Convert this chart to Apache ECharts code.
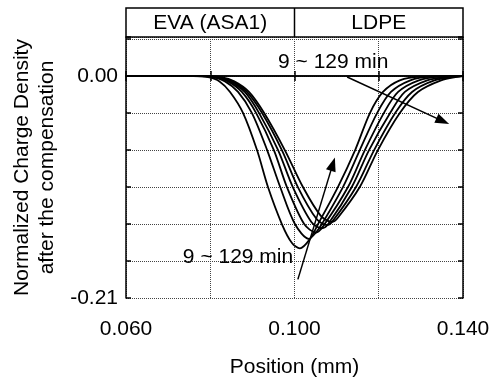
<!DOCTYPE html>
<html><head><meta charset="utf-8">
<script src="https://cdn.jsdelivr.net/npm/echarts@6/dist/echarts.min.js"></script>
<style>html,body{margin:0;padding:0;background:#fff}#c{width:494px;height:383px}</style>
</head><body><div id="c"></div>
<script>
// Curves: [position (mm), normalized charge density]
const curve9 = [[0.060,0],[0.076,0],[0.0795,-0.001],[0.0822,-0.005],[0.0847,-0.015],[0.0878,-0.035],[0.0911,-0.070],[0.0937,-0.105],[0.0970,-0.140],[0.0994,-0.158],[0.1013,-0.163],[0.1037,-0.154],[0.1056,-0.140],[0.1103,-0.105],[0.1144,-0.070],[0.1179,-0.035],[0.1210,-0.015],[0.1250,-0.004],[0.1300,-0.0005],[0.140,0]];
const curve33 = [[0.060,0],[0.077,0],[0.0804,-0.001],[0.0835,-0.005],[0.0866,-0.015],[0.0899,-0.035],[0.0935,-0.070],[0.0966,-0.105],[0.1001,-0.140],[0.1034,-0.154],[0.1051,-0.148],[0.1065,-0.140],[0.1115,-0.105],[0.1155,-0.070],[0.1196,-0.035],[0.1229,-0.015],[0.1275,-0.004],[0.1322,-0.0005],[0.140,0]];
const curve57 = [[0.060,0],[0.078,0],[0.0811,-0.001],[0.0842,-0.005],[0.0875,-0.015],[0.0909,-0.035],[0.0951,-0.070],[0.0982,-0.105],[0.1023,-0.140],[0.1051,-0.148],[0.1068,-0.142],[0.1127,-0.105],[0.1167,-0.070],[0.1212,-0.035],[0.1246,-0.015],[0.1295,-0.004],[0.1345,-0.0005],[0.140,0]];
const curve81 = [[0.060,0],[0.078,0],[0.0816,-0.001],[0.0847,-0.005],[0.0882,-0.015],[0.0916,-0.035],[0.0961,-0.070],[0.0996,-0.105],[0.1040,-0.138],[0.1065,-0.144],[0.1080,-0.140],[0.1136,-0.105],[0.1177,-0.070],[0.1227,-0.035],[0.1262,-0.015],[0.1315,-0.004],[0.1364,-0.0005],[0.140,0]];
const curve105 = [[0.060,0],[0.079,0],[0.0821,-0.001],[0.0852,-0.005],[0.0887,-0.015],[0.0923,-0.035],[0.0970,-0.070],[0.1008,-0.105],[0.1052,-0.135],[0.1077,-0.141],[0.1091,-0.137],[0.1146,-0.105],[0.1189,-0.070],[0.1239,-0.035],[0.1279,-0.015],[0.1332,-0.004],[0.1381,-0.0005],[0.140,0]];
const curve129 = [[0.060,0],[0.079,0],[0.0826,-0.001],[0.0857,-0.005],[0.0892,-0.015],[0.0928,-0.035],[0.0977,-0.070],[0.1020,-0.105],[0.1062,-0.132],[0.1089,-0.138],[0.1103,-0.134],[0.1155,-0.105],[0.1198,-0.070],[0.1250,-0.035],[0.1293,-0.015],[0.1348,-0.004],[0.1390,-0.0005],[0.140,0]];
const curves = [curve9, curve33, curve57, curve81, curve105, curve129];
const xTickLabels = ['0.060', '0.100', '0.140'];
const yTickLabels = ['0.00', '-0.21'];
const regions = ['EVA (ASA1)', 'LDPE'];
const regionBounds = [0.060, 0.100, 0.140];
const annotText = '9 ~ 129 min';
const annotTop = [0.0961, 0.013];
const annotBottom = [0.0735, -0.171];
const arrowTop = [[0.1125, -0.0009], [0.1352, -0.0426]];
const arrowBottom = [[0.1008, -0.1924], [0.1091, -0.0833]];

const FONT = 'Liberation Sans, Arial, sans-serif';
const chart = echarts.init(document.getElementById('c'));
const axisCommon = {
  axisLine: {show: true, lineStyle: {color: '#000', width: 1.5}},
  axisTick: {show: true, inside: true, length: 5, lineStyle: {color: '#000', width: 1.5}},
  splitLine: {show: false}
};
const series = curves.map((c, i) => ({
  type: 'line', data: c, smooth: 0.3, showSymbol: false, symbol: 'none',
  lineStyle: {color: '#000', width: 1.8}, z: 3, animation: false
}));
series.push({
  type: 'line', data: [], markLine: {
    silent: true, animation: false, symbol: ['none', 'triangle'], symbolSize: [10, 14],
    lineStyle: {color: '#000', width: 1.5, type: 'solid'}, label: {show: false},
    data: [
      [{coord: arrowTop[0]}, {coord: arrowTop[1]}],
      [{coord: arrowBottom[0]}, {coord: arrowBottom[1]}]
    ]
  }
});
chart.setOption({
  animation: false,
  grid: {left: 126, right: 31, top: 37, bottom: 79},
  xAxis: [
    Object.assign({}, axisCommon, {
      type: 'value', min: 0.06, max: 0.14, interval: 0.02, position: 'bottom',
      name: 'Position (mm)', nameLocation: 'middle', nameGap: 59,
      nameTextStyle: {fontFamily: FONT, fontSize: 21, color: '#000'},
      axisLabel: {fontFamily: FONT, fontSize: 21, color: '#000', margin: 21,
        formatter: v => { const s = v.toFixed(3); return xTickLabels.indexOf(s) >= 0 ? s : ''; }},
      splitLine: {show: true, lineStyle: {color: '#444', width: 1, type: 'dotted'}}
    }),
    Object.assign({}, axisCommon, {
      type: 'value', min: 0.06, max: 0.14, interval: 0.02, position: 'top', axisLabel: {show: false}
    })
  ],
  yAxis: [
    Object.assign({}, axisCommon, {
      type: 'value', min: -0.21, max: 0.037, interval: 0.035, position: 'left',
      name: 'Normalized Charge Density\nafter the compensation', nameLocation: 'middle', nameGap: 66,
      nameTextStyle: {fontFamily: FONT, fontSize: 21, color: '#000', lineHeight: 25},
      axisLabel: {fontFamily: FONT, fontSize: 21, color: '#000', margin: 8,
        formatter: v => { const s = Math.abs(v) < 1e-9 ? '0.00' : v.toFixed(2); return yTickLabels.indexOf(s) >= 0 ? s : ''; }},
      splitLine: {show: true, lineStyle: {color: '#444', width: 1, type: 'dotted'}}
    }),
    Object.assign({}, axisCommon, {
      type: 'value', min: -0.21, max: 0.037, interval: 0.035, position: 'right', axisLabel: {show: false}
    })
  ],
  series: series
});

function px(p) { return chart.convertToPixel({xAxisIndex: 0, yAxisIndex: 0}, p); }
const gTop = 8, gBot = 37;
const xs = regionBounds.map(v => px([v, 0])[0]);
const g = [
  {type: 'rect', shape: {x: xs[0], y: gTop, width: xs[2] - xs[0], height: gBot - gTop},
   style: {fill: 'none', stroke: '#000', lineWidth: 1.5}},
  {type: 'line', shape: {x1: xs[1], y1: gTop, x2: xs[1], y2: gBot}, style: {stroke: '#000', lineWidth: 1.5}}
];
regions.forEach((r, i) => {
  g.push({type: 'text', x: (xs[i] + xs[i + 1]) / 2, y: (gTop + gBot) / 2 + 1,
    style: {text: r, font: '21px ' + FONT, fill: '#000', align: 'center', verticalAlign: 'middle'}});
});
[annotTop, annotBottom].forEach(a => {
  const p = px(a);
  g.push({type: 'text', x: p[0], y: p[1], z: 10,
    style: {text: annotText, font: '21px ' + FONT, fill: '#000', align: 'left', verticalAlign: 'middle'}});
});
chart.setOption({graphic: g});
</script></body></html>
